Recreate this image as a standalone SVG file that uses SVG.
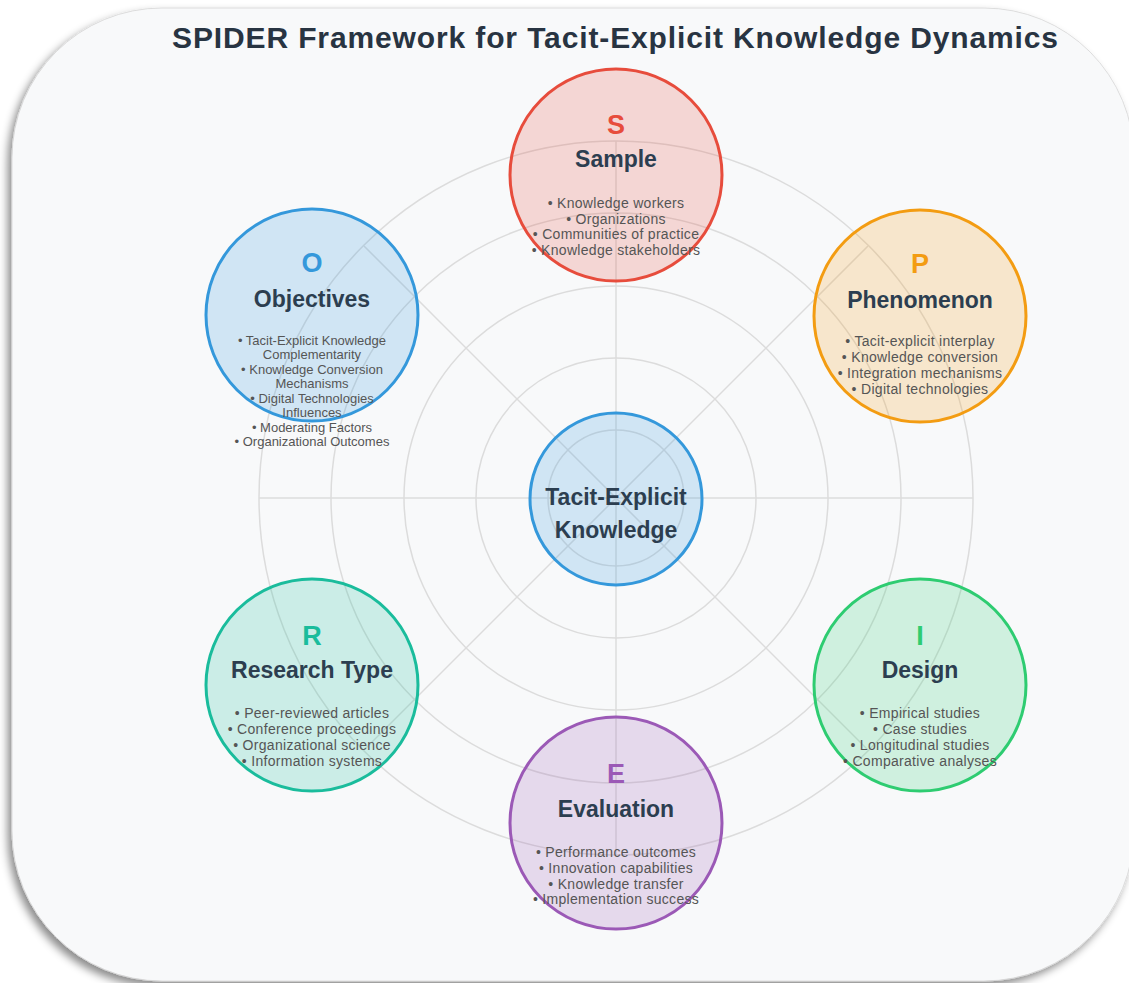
<svg xmlns="http://www.w3.org/2000/svg" width="1129" height="983" viewBox="0 0 1129 983">
  <defs>
    <filter id="frameShadow" x="-5%" y="-5%" width="110%" height="110%">
      <feDropShadow dx="-4" dy="5" stdDeviation="4" flood-color="#000" flood-opacity="0.45"/>
    </filter>
    <style>
      .grid { fill: none; stroke: #dcdcdc; stroke-width: 1.5; }
      .node { stroke-width: 3; fill-opacity: 0.2; }
      .letter { font-family: "Liberation Sans", Arial, sans-serif; font-weight: bold; font-size: 27px; text-anchor: middle; }
      .label { font-family: "Liberation Sans", Arial, sans-serif; font-weight: bold; font-size: 23px; fill: #2c3e50; text-anchor: middle; }
      .item { font-family: "Liberation Sans", Arial, sans-serif; font-size: 14px; fill: #555; text-anchor: middle; letter-spacing: 0.3px; }
      .item.small { font-size: 13px; letter-spacing: 0; }
      .title { font-family: "Liberation Sans", Arial, sans-serif; font-weight: bold; font-size: 30px; fill: #283442; text-anchor: middle; }
    </style>
  </defs>

  <rect x="0" y="0" width="1129" height="983" fill="#ffffff"/>
  <rect x="12" y="8" width="1122" height="973" rx="150" ry="150" fill="#f8f9fa" stroke="#d6d6d6" stroke-width="0.8" filter="url(#frameShadow)"/>

  <text class="title" x="615" y="48" textLength="886" lengthAdjust="spacing">SPIDER Framework for Tacit-Explicit Knowledge Dynamics</text>

  <!-- radial web -->
  <g id="connectors">
    <circle class="grid" cx="616" cy="498" r="68"/>
    <circle class="grid" cx="616" cy="498" r="140"/>
    <circle class="grid" cx="616" cy="498" r="212"/>
    <circle class="grid" cx="616" cy="498" r="285"/>
    <circle class="grid" cx="616" cy="498" r="357"/>
    <line class="grid" x1="259" y1="498" x2="973" y2="498"/>
    <line class="grid" x1="616" y1="141" x2="616" y2="855"/>
    <line class="grid" x1="364" y1="246" x2="868" y2="750"/>
    <line class="grid" x1="868" y1="246" x2="364" y2="750"/>
  </g>

  <g id="node-sample">
    <circle class="node" cx="616" cy="175" r="106" fill="#e74c3c" stroke="#e74c3c"/>
    <text class="letter" x="616" y="134" fill="#e74c3c">S</text>
    <text class="label" x="616" y="167">Sample</text>
    <text class="item" x="616" y="208">• Knowledge workers</text>
    <text class="item" x="616" y="224">• Organizations</text>
    <text class="item" x="616" y="239">• Communities of practice</text>
    <text class="item" x="616" y="255">• Knowledge stakeholders</text>
  </g>

  <g id="node-phenomenon">
    <circle class="node" cx="920" cy="316" r="106" fill="#f39c12" stroke="#f39c12"/>
    <text class="letter" x="920" y="273" fill="#f39c12">P</text>
    <text class="label" x="920" y="308">Phenomenon</text>
    <text class="item" x="920" y="346">• Tacit-explicit interplay</text>
    <text class="item" x="920" y="362">• Knowledge conversion</text>
    <text class="item" x="920" y="378">• Integration mechanisms</text>
    <text class="item" x="920" y="394">• Digital technologies</text>
  </g>

  <g id="node-design">
    <circle class="node" cx="920" cy="685" r="106" fill="#2ecc71" stroke="#2ecc71"/>
    <text class="letter" x="920" y="645" fill="#2ecc71">I</text>
    <text class="label" x="920" y="678">Design</text>
    <text class="item" x="920" y="718">• Empirical studies</text>
    <text class="item" x="920" y="734">• Case studies</text>
    <text class="item" x="920" y="750">• Longitudinal studies</text>
    <text class="item" x="920" y="766">• Comparative analyses</text>
  </g>

  <g id="node-evaluation">
    <circle class="node" cx="616" cy="823" r="106" fill="#9b59b6" stroke="#9b59b6"/>
    <text class="letter" x="616" y="783" fill="#9b59b6">E</text>
    <text class="label" x="616" y="817">Evaluation</text>
    <text class="item" x="616" y="857">• Performance outcomes</text>
    <text class="item" x="616" y="873">• Innovation capabilities</text>
    <text class="item" x="616" y="889">• Knowledge transfer</text>
    <text class="item" x="616" y="904">• Implementation success</text>
  </g>

  <g id="node-research-type">
    <circle class="node" cx="312" cy="685" r="106" fill="#1abc9c" stroke="#1abc9c"/>
    <text class="letter" x="312" y="645" fill="#1abc9c">R</text>
    <text class="label" x="312" y="678">Research Type</text>
    <text class="item" x="312" y="718">• Peer-reviewed articles</text>
    <text class="item" x="312" y="734">• Conference proceedings</text>
    <text class="item" x="312" y="750">• Organizational science</text>
    <text class="item" x="312" y="766">• Information systems</text>
  </g>

  <g id="node-objectives">
    <circle class="node" cx="312" cy="315" r="106" fill="#3498db" stroke="#3498db"/>
    <text class="letter" x="312" y="272" fill="#3498db">O</text>
    <text class="label" x="312" y="307">Objectives</text>
    <text class="item small" x="312" y="345">• Tacit-Explicit Knowledge</text>
    <text class="item small" x="312" y="359">Complementarity</text>
    <text class="item small" x="312" y="374">• Knowledge Conversion</text>
    <text class="item small" x="312" y="388">Mechanisms</text>
    <text class="item small" x="312" y="403">• Digital Technologies</text>
    <text class="item small" x="312" y="417">Influences</text>
    <text class="item small" x="312" y="432">• Moderating Factors</text>
    <text class="item small" x="312" y="446">• Organizational Outcomes</text>
  </g>

  <g id="node-center">
    <circle class="node" cx="616" cy="499" r="86" fill="#3498db" stroke="#3498db"/>
    <text class="label" x="616" y="505">Tacit-Explicit</text>
    <text class="label" x="616" y="538">Knowledge</text>
  </g>
</svg>
